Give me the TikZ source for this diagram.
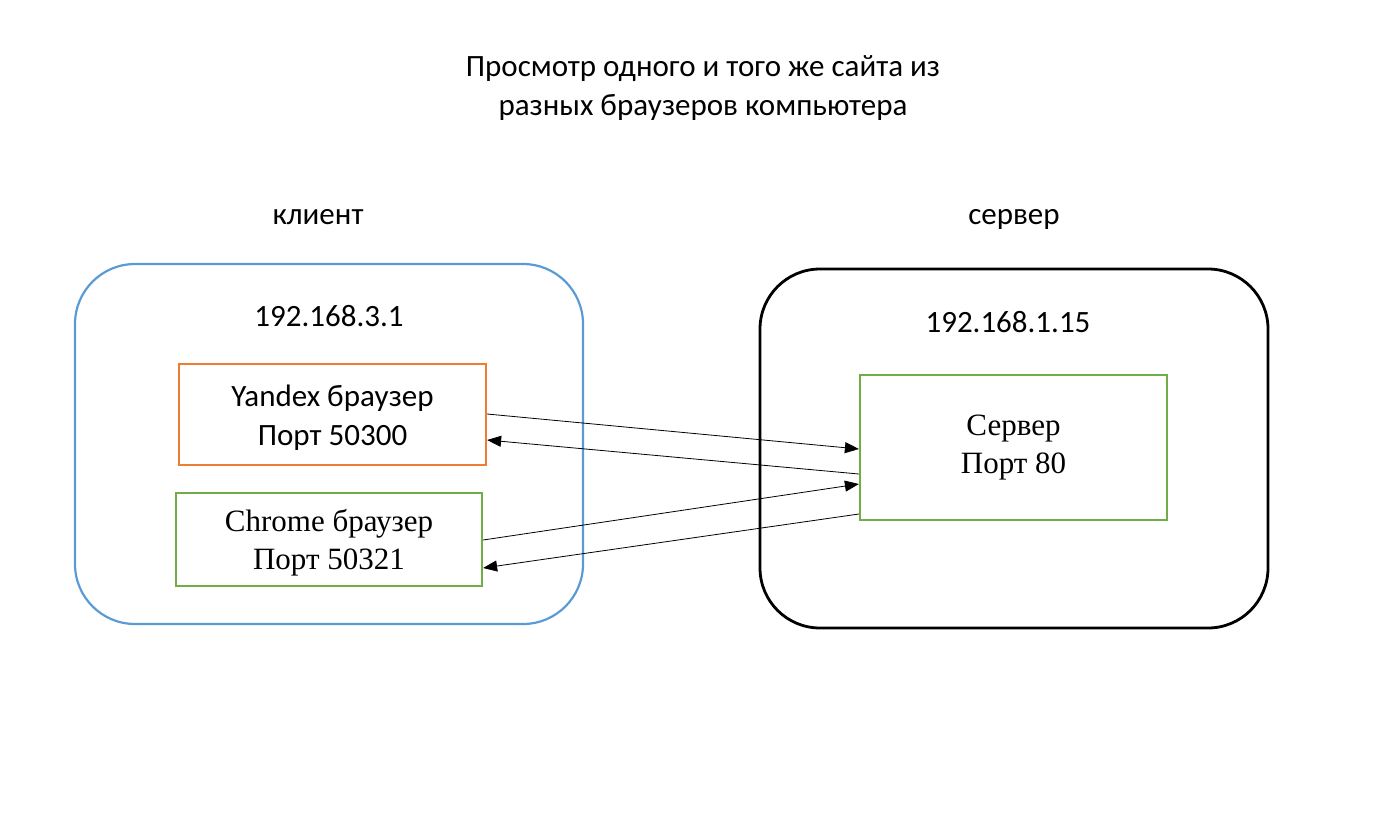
\documentclass[tikz,border=0pt]{standalone}
\usepackage{fontspec}
\setmainfont{Carlito}
\newfontfamily\serif{Liberation Serif}
\usetikzlibrary{arrows.meta}
\begin{document}
\begin{tikzpicture}[x=1pt,y=-1pt,
  txt/.style={font=\fontsize{31}{39}\selectfont, align=center},
  stxt/.style={font=\serif\fontsize{31}{38}\selectfont, align=center},
  con/.style={-{Triangle[length=14pt,width=11pt]}, line width=0.8pt}]
\useasboundingbox (0,0) rectangle (1392,812);
\node[txt] (title) at (703,88) {Просмотр одного и того же сайта из\\разных браузеров компьютера};
\node[txt] (cl) at (318,217) {клиент};
\node[txt] (sv) at (1014,219) {сервер};
\draw[color={rgb,255:red,91;green,155;blue,213}, line width=2.2pt, rounded corners=60pt] (75,264) rectangle (583,624);
\draw[black, line width=2.8pt, rounded corners=60pt] (760,269) rectangle (1268,628);
\node[txt] (ip1) at (329,316) {192.168.3.1};
\node[txt] (ip2) at (1008,322) {192.168.1.15};
\node[draw={rgb,255:red,237;green,125;blue,49}, line width=2.2pt, minimum width=307pt, minimum height=101pt] (y) at (332.5,414.5) {};
\node[txt] (yt) at (332.5,418) {Yandex браузер\\Порт 50300};
\node[draw={rgb,255:red,112;green,173;blue,71}, line width=2.2pt, minimum width=306pt, minimum height=93pt] (c) at (329,539.5) {};
\node[stxt] (ct) at (329,543) {Chrome браузер\\Порт 50321};
\node[draw={rgb,255:red,112;green,173;blue,71}, line width=2.2pt, minimum width=307pt, minimum height=145pt] (s) at (1013.5,447.5) {};
\node[stxt] (st) at (1013.5,448) {Сервер\\Порт 80};
\draw[con] ([yshift=0.5pt]y.east) -- ([yshift=-1.5pt]s.west);
\draw[con] ([yshift=-26.5pt]s.west) -- ([yshift=-25.5pt]y.east);
\draw[con] ([yshift=-0.5pt]c.east) -- ([yshift=-36.5pt]s.west);
\draw[con] ([yshift=-66.5pt]s.west) -- ([yshift=-28.5pt]c.east);
\end{tikzpicture}
\end{document}
